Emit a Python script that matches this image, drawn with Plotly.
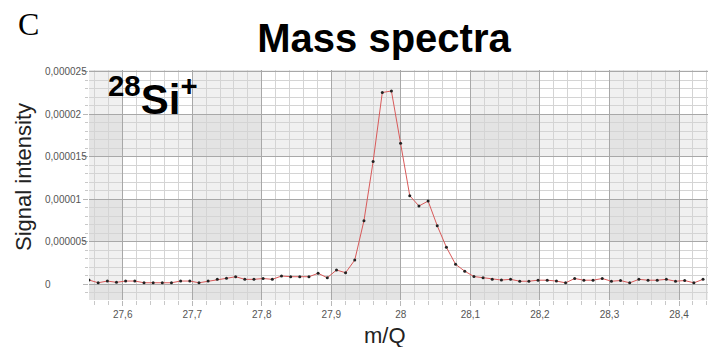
import plotly.graph_objects as go

# ---- data ----
mq = [27.5515, 27.5647, 27.5779, 27.5910, 27.6042, 27.6174, 27.6306, 27.6438, 27.6569, 27.6701,
      27.6833, 27.6965, 27.7097, 27.7228, 27.7360, 27.7492, 27.7624, 27.7756, 27.7887, 27.8019,
      27.8151, 27.8283, 27.8415, 27.8546, 27.8678, 27.8810, 27.8942, 27.9074, 27.9205, 27.9337,
      27.9469, 27.9601, 27.9733, 27.9864, 27.9996, 28.0128, 28.0260, 28.0392, 28.0523, 28.0655,
      28.0787, 28.0919, 28.1051, 28.1182, 28.1314, 28.1446, 28.1578, 28.1710, 28.1841, 28.1973,
      28.2105, 28.2237, 28.2369, 28.2500, 28.2632, 28.2764, 28.2896, 28.3028, 28.3159, 28.3291,
      28.3423, 28.3555, 28.3687, 28.3818, 28.3950, 28.4082, 28.4214, 28.4346]
signal_e6 = [0.47, 0.15, 0.35, 0.20, 0.35, 0.35, 0.15, 0.15, 0.15, 0.15,
             0.35, 0.35, 0.15, 0.35, 0.55, 0.67, 0.86, 0.55, 0.55, 0.65,
             0.55, 0.94, 0.86, 0.86, 0.86, 1.26, 0.74, 1.65, 1.33, 2.82,
             7.45, 14.41, 22.53, 22.71, 16.55, 10.39, 9.18, 9.76, 6.86, 4.32,
             2.32, 1.51, 0.88, 0.74, 0.56, 0.47, 0.55, 0.33, 0.33, 0.45,
             0.45, 0.35, 0.14, 0.65, 0.45, 0.45, 0.65, 0.33, 0.41, 0.14,
             0.55, 0.45, 0.45, 0.55, 0.33, 0.41, 0.14, 0.55]
signal = [v * 1e-6 for v in signal_e6]

x_ticks = [27.6, 27.7, 27.8, 27.9, 28.0, 28.1, 28.2, 28.3, 28.4]
y_ticks = [0, 0.000005, 0.00001, 0.000015, 0.00002, 0.000025]
x_range = [27.5515, 28.4417]
y_range = [-0.00000188, 0.00002518]

title = "Mass spectra"
panel = "C"
label = "<sup>28</sup>Si<sup>+</sup>"
x_title = "m/Q"
y_title = "Signal intensity"

SANS = "Liberation Sans, Arial, sans-serif"

fig = go.Figure()
fig.add_trace(go.Scatter(
    x=mq, y=signal, mode="lines+markers",
    line=dict(color="#d85a5a", width=1),
    marker=dict(color="#222222", size=3),
    showlegend=False, hoverinfo="skip"))

# checkerboard background bands
x_edges = [x_range[0]] + x_ticks + [x_range[1]]
y_edges = [y_range[0]] + y_ticks + [y_range[1]]
shade = {0: "#ffffff", 1: "#f0f0f0", 2: "#e3e3e3"}
for i in range(len(x_edges) - 1):
    col_dark = 1 if i % 2 == 0 else 0
    for j in range(len(y_edges) - 1):
        row_dark = 1 if j % 2 == 0 else 0
        fig.add_shape(type="rect", xref="x", yref="y",
                      x0=x_edges[i], x1=x_edges[i + 1],
                      y0=y_edges[j], y1=y_edges[j + 1],
                      fillcolor=shade[col_dark + row_dark],
                      line=dict(width=0), layer="below")

fig.update_xaxes(
    range=x_range, tickvals=x_ticks, showgrid=True, gridcolor="#a8a8a8", gridwidth=1,
    zeroline=False, showline=False, ticks="outside", ticklen=5, tickcolor="#b8b8b8",
    tickfont=dict(family=SANS, size=10, color="#555555"),
    minor=dict(dtick=0.02, showgrid=True, gridcolor="#d4d4d4", ticks="outside",
               ticklen=4, tickcolor="#c8c8c8"))
fig.update_yaxes(
    range=y_range, tickvals=y_ticks, showticklabels=False, showgrid=True,
    gridcolor="#a8a8a8", gridwidth=1, zeroline=False, showline=False,
    ticks="outside", ticklen=5, tickcolor="#b8b8b8",
    minor=dict(dtick=0.000001, showgrid=True, gridcolor="#d4d4d4", ticks="outside",
               ticklen=3, tickcolor="#c8c8c8"))

def fmt(v):
    if v == 0:
        return "0"
    return ("%.6f" % v).rstrip("0").replace(".", ",")

annotations = []
for v in y_ticks:
    annotations.append(dict(x=-0.0743, xref="paper", y=v, yref="y", text=fmt(v),
                            showarrow=False, xanchor="left", yanchor="middle",
                            font=dict(family=SANS, size=10, color="#555555")))
annotations += [
    dict(x=-0.1050, xref="paper", y=0.535, yref="paper", text=y_title, textangle=-90,
         showarrow=False, xanchor="center", yanchor="middle",
         font=dict(family=SANS, size=22, color="#222222")),
    dict(x=0.478, xref="paper", y=-0.155, yref="paper", text=x_title,
         showarrow=False, xanchor="center", yanchor="middle",
         font=dict(family=SANS, size=22, color="#222222")),
    dict(x=-0.0985, xref="paper", y=1.2, yref="paper", text=panel,
         showarrow=False, xanchor="center", yanchor="middle",
         font=dict(family="Liberation Serif, Times New Roman, serif", size=32, color="#000000")),
    dict(x=0.0275, xref="paper", y=0.887, yref="paper", text=label,
         showarrow=False, xanchor="left", yanchor="middle",
         font=dict(family=SANS, size=42, color="#000000", weight="bold")),
]

fig.update_layout(
    width=708, height=347,
    margin=dict(l=89, r=0, t=70, b=47),
    paper_bgcolor="#ffffff", plot_bgcolor="#ffffff",
    separators=",.",
    title=dict(text=title, xref="container", yref="container", x=384 / 708,
               y=1 - 38 / 347, xanchor="center", yanchor="middle",
               font=dict(family=SANS, size=40, color="#000000", weight="bold")),
    annotations=annotations,
)

fig.write_html("out.html")
